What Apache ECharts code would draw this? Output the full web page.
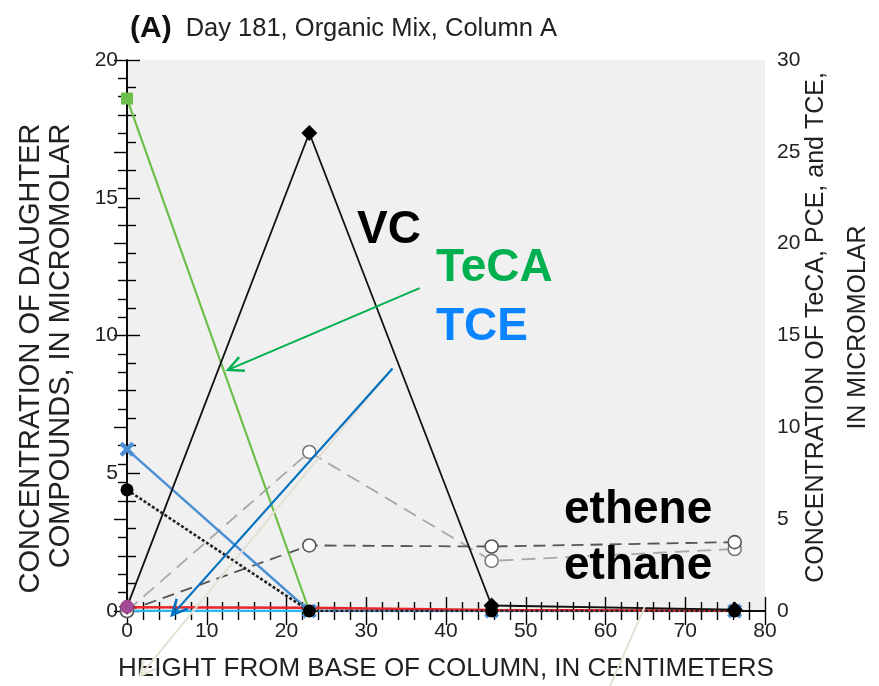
<!DOCTYPE html>
<html><head><meta charset="utf-8">
<script src="https://cdn.jsdelivr.net/npm/echarts@6/dist/echarts.min.js"></script>
<style>html,body{margin:0;padding:0;background:#fff}#c{width:879px;height:686px}</style>
</head><body><div id="c"></div>
<script>
// ---- data ----
const heights = [0, 22.86, 45.72, 76.2];            // cm from base of column
// right axis (TeCA, PCE, TCE)
const teca = [27.9, 0, 0, 0];
const tce = [8.8, 0, 0, 0];
const pce = [0.2, 0.18, 0.05, 0.02];
// left axis (daughter compounds)
const vc = [0.15, 17.35, 0.2, 0.05];
const cisDce = [4.4, 0, 0, 0];
const ethene = [0, 2.38, 2.34, 2.5];
const ethane = [0, 5.77, 1.82, 2.25];
const transDce = [0.15, null, null, null];
const tca = [0, 0, null, null];
const xTicks = [0, 10, 20, 30, 40, 50, 60, 70, 80];
const leftTicks = [0, 5, 10, 15, 20];
const rightTicks = [0, 5, 10, 15, 20, 25, 30];
// annotation arrows in left-axis data units
const arrows = [
  {from: [36.7, 11.72], to: [12.66, 8.75], color: '#00b050', width: 2, head: true},
  {from: [32.6, 8.6], to: [1.63, -2.36], color: '#e4e0d2', width: 2, head: true},
  {from: [64.95, 0.18], to: [60.3, -2.9], color: '#e4e0d2', width: 2, head: false},
  {from: [33.3, 8.8], to: [5.64, -0.15], color: '#0070c0', width: 2.2, head: true}
];

const FONT = '"Liberation Sans", Arial, Helvetica, sans-serif';
const pairs = (arr) => heights.map((h, i) => [h, arr[i]]);
const X_SYM = 'path://M2,0 L5,3 L8,0 L10,2 L7,5 L10,8 L8,10 L5,7 L2,10 L0,8 L3,5 L0,2 Z';

const chart = echarts.init(document.getElementById('c'), null, {renderer: 'canvas'});

const xBase = {
  type: 'value', min: xTicks[0], max: xTicks[xTicks.length - 1], interval: xTicks[1] - xTicks[0],
  axisLine: {show: true, lineStyle: {color: '#000', width: 1.6}},
  axisTick: {show: true, inside: true, length: 14, lineStyle: {color: '#000', width: 1.4}},
  minorTick: {show: true, splitNumber: 5, length: 9, lineStyle: {color: '#000', width: 1.4}},
  splitLine: {show: false}
};
const yBase = (ticks) => ({
  type: 'value', min: ticks[0], max: ticks[ticks.length - 1], interval: ticks[1] - ticks[0],
  axisLine: {show: true, lineStyle: {color: '#000', width: 1.6}},
  axisTick: {show: true, inside: true, length: 13, lineStyle: {color: '#000', width: 1.4}},
  minorTick: {show: true, splitNumber: 5, length: 9, lineStyle: {color: '#000', width: 1.4}},
  splitLine: {show: false},
  nameLocation: 'middle', nameRotate: 90, nameMoveOverlap: false
});

const openCircle = (border) => ({color: '#fff', borderColor: border, borderWidth: 1.6});

chart.setOption({
  animation: false,
  title: {
    text: '{a|(A)}{b|Day 181, Organic Mix, Column A}',
    left: 125, top: 9,
    textStyle: {rich: {
      a: {fontFamily: FONT, fontWeight: 'bold', fontSize: 30, color: '#111', padding: [0, 14, 0, 0]},
      b: {fontFamily: FONT, fontWeight: 'normal', fontSize: 25.5, color: '#222'}
    }}
  },
  grid: {left: 127, right: 114, top: 60, bottom: 75, show: true, backgroundColor: '#f0f0f0',
    borderWidth: 0, containLabel: false, outerBoundsMode: 'none'},
  xAxis: [
    Object.assign({}, xBase, {
      position: 'bottom',
      axisLabel: {margin: 10, fontFamily: FONT, fontSize: 21, color: '#222'},
      name: 'HEIGHT FROM BASE OF COLUMN, IN CENTIMETERS', nameLocation: 'middle', nameGap: 45,
      nameMoveOverlap: false,
      nameTextStyle: {fontFamily: FONT, fontSize: 26, color: '#222'}
    }),
    Object.assign({}, xBase, {position: 'top', axisLabel: {show: false}})
  ],
  yAxis: [
    Object.assign(yBase(leftTicks), {
      position: 'left',
      axisLabel: {margin: 9, fontFamily: FONT, fontSize: 21, color: '#222'},
      name: '{l|CONCENTRATION OF DAUGHTER}\n{l|COMPOUNDS, IN MICROMOLAR}', nameGap: 51,
      nameTextStyle: {fontFamily: FONT, fontSize: 29, color: '#222', lineHeight: 30,
        padding: [0, 46, 0, 0],
        rich: {l: {fontFamily: FONT, fontSize: 29, color: '#222', lineHeight: 30, align: 'right'}}}
    }),
    Object.assign(yBase(rightTicks), {
      position: 'right',
      axisLabel: {margin: 12, fontFamily: FONT, fontSize: 21, color: '#222'},
      name: 'CONCENTRATION OF TeCA, PCE, and TCE,\nIN MICROMOLAR', nameGap: 30,
      nameTextStyle: {fontFamily: FONT, fontSize: 25, color: '#222', lineHeight: 42,
        padding: [0, 0, 0, 16]}
    })
  ],
  series: [
    {name: 'ethane', type: 'line', yAxisIndex: 0, data: pairs(ethane), symbol: 'circle', symbolSize: 13,
      lineStyle: {color: '#a8a8a8', width: 1.8, type: [14, 8]}, itemStyle: openCircle('#777')},
    {name: 'ethene', type: 'line', yAxisIndex: 0, data: pairs(ethene), symbol: 'circle', symbolSize: 13,
      lineStyle: {color: '#555', width: 1.8, type: [12, 7]}, itemStyle: openCircle('#555')},
    {name: 'TeCA', type: 'line', yAxisIndex: 1, data: pairs(teca), symbol: 'rect', symbolSize: 12,
      lineStyle: {color: '#6cbf4a', width: 2.2}, itemStyle: {color: '#6cbf4a'}},
    {name: 'TCE', type: 'line', yAxisIndex: 1, data: pairs(tce), symbol: X_SYM, symbolSize: 15,
      lineStyle: {color: '#4a8fd4', width: 2.4}, itemStyle: {color: '#4a8fd4'}},
    {name: '1,1,2-TCA', type: 'line', yAxisIndex: 0, data: pairs(tca), symbol: 'none',
      lineStyle: {color: '#2eb5f0', width: 2.5}},
    {name: 'PCE', type: 'line', yAxisIndex: 1, data: pairs(pce), symbol: 'none',
      lineStyle: {color: '#e8262b', width: 2.5}},
    {name: 'VC', type: 'line', yAxisIndex: 0, data: pairs(vc), symbol: 'diamond', symbolSize: 16,
      lineStyle: {color: '#111', width: 1.8}, itemStyle: {color: '#000'}},
    {name: 'cis-DCE', type: 'line', yAxisIndex: 0, data: pairs(cisDce), symbol: 'circle', symbolSize: 13,
      lineStyle: {color: '#222', width: 2.6, type: [3, 2]}, itemStyle: {color: '#000'}},
    {name: 'trans-DCE', type: 'line', yAxisIndex: 0, data: pairs(transDce), symbol: 'circle', symbolSize: 14,
      lineStyle: {width: 0}, itemStyle: {color: '#a24a94'}}
  ]
});

// annotations
const gfx = [];
const px = (p) => chart.convertToPixel({xAxisIndex: 0, yAxisIndex: 0}, p);
arrows.forEach((a) => {
  const s = px(a.from), e = px(a.to);
  gfx.push({type: 'line', z: 100, shape: {x1: s[0], y1: s[1], x2: e[0], y2: e[1]},
    style: {stroke: a.color, lineWidth: a.width}});
  if (a.head) {
    const ang = Math.atan2(s[1] - e[1], s[0] - e[0]);
    const L = 17, sp = 0.45;
    const p1 = [e[0] + L * Math.cos(ang + sp), e[1] + L * Math.sin(ang + sp)];
    const p2 = [e[0] + L * Math.cos(ang - sp), e[1] + L * Math.sin(ang - sp)];
    gfx.push({type: 'polyline', z: 100, shape: {points: [p1, e, p2]},
      style: {stroke: a.color, lineWidth: a.width + 0.3, fill: 'none'}});
  }
});
const labels = [
  {text: 'VC', x: 357, y: 207, color: '#000'},
  {text: 'TeCA', x: 436, y: 245, color: '#00b050'},
  {text: 'TCE', x: 436, y: 304, color: '#0a84ff'},
  {text: 'ethene', x: 564, y: 487, color: '#000'},
  {text: 'ethane', x: 564, y: 543, color: '#000'}
];
labels.forEach((l) => gfx.push({type: 'text', z: 101, left: l.x, top: l.y,
  style: {text: l.text, fill: l.color, font: 'bold 46px ' + FONT}}));
chart.setOption({graphic: gfx});
</script>
</body></html>
